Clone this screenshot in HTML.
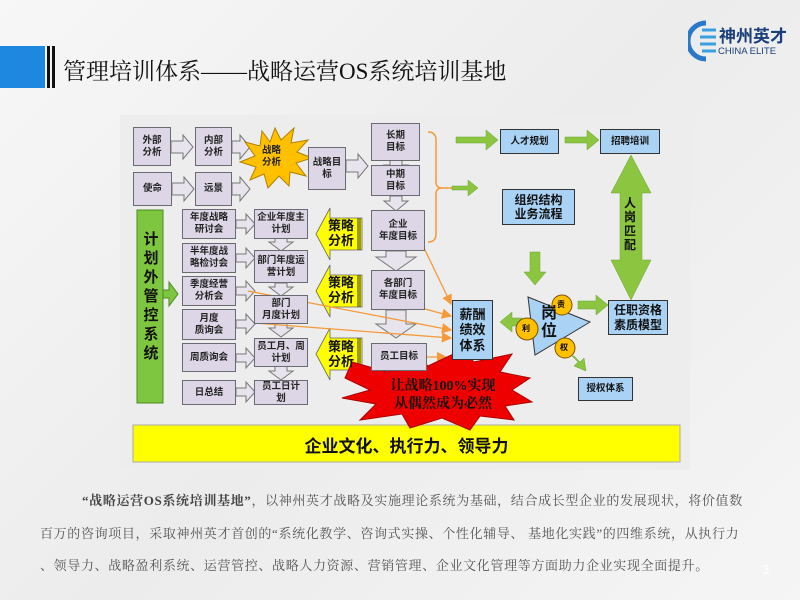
<!DOCTYPE html>
<html><head><meta charset="utf-8"><style>
body{margin:0;width:800px;height:600px;overflow:hidden;background:#f2f2f2;font-family:"Liberation Sans","Noto Sans CJK SC",sans-serif;position:relative}
.a{position:absolute}
.g{position:absolute;background:#dcd6e6;border:1.5px solid #6a6a72;box-sizing:border-box;display:flex;align-items:center;justify-content:center;text-align:center;font-size:9.5px;font-weight:bold;color:#222;line-height:1.25}
.b{position:absolute;background:#a9d2f5;border:1.5px solid #333;box-sizing:border-box;display:flex;align-items:center;justify-content:center;text-align:center;font-weight:bold;color:#111;line-height:1.2}
p{margin:0}
</style></head><body>
<div class="a" style="left:0;top:0;width:800px;height:600px;background:linear-gradient(135deg,#f7f7f7,#ececec 50%,#f5f5f5)"></div>
<div class="a" style="left:0;top:46px;width:45px;height:42px;background:#1e88e0"></div>
<div class="a" style="left:47px;top:46px;width:3px;height:42px;background:#111"></div>
<div class="a" style="left:52px;top:46px;width:3px;height:42px;background:#111"></div>
<div class="a" style="left:63px;top:53px;font-family:'Liberation Serif','Noto Serif CJK SC',serif;font-size:23px;color:#111;white-space:nowrap">管理培训体系——战略运营OS系统培训基地</div>
<svg class="a" style="left:688px;top:20px" width="30" height="42"><path d="M18 3 A18 18 0 1 0 18 39" fill="none" stroke="#2a78c8" stroke-width="5"/><path d="M14 10 h14 M12 17 h16 M12 24 h16 M14 31 h14" stroke="#3aa0e0" stroke-width="3"/></svg>
<div class="a" style="left:719px;top:22px;font-size:17px;font-weight:bold;color:#1a3f7a">神州英才</div>
<div class="a" style="left:718px;top:46px;font-size:9.5px;color:#1a3f7a">CHINA ELITE</div>

<div class="a" style="left:120px;top:115px;width:570px;height:355px;background:#ededed"></div>
<svg class="a" style="left:0;top:0" width="800" height="600">
<defs><marker id="o" markerWidth="8" markerHeight="8" refX="7" refY="4" orient="auto"><path d="M0 0L8 4L0 8z" fill="#f59a3a"/></marker></defs>
<g fill="#e8e4ee" stroke="#777" stroke-width="1">
<path d="M171 141h12v-6l10 12-10 12v-6h-12z"/>
<path d="M172 183h12v-6l10 12-10 12v-6h-12z"/>
<path d="M232 141h8v-6l10 12-10 12v-6h-8z"/>
<path d="M232 183h8v-6l10 12-10 12v-6h-8z"/>
<path d="M346 160h12v-6l10 12-10 12v-6h-12z"/>
<path d="M390 160v5h-6l12 10 12-10h-6v-5z"/>
<path d="M390 196v5h-6l12 10 12-10h-6v-5z"/>
<path d="M386 251v6h-10l20 14 20-14h-10v-6z"/>
<path d="M386 310v14h-10l20 14 20-14h-10v-14z"/>
<path d="M236 220h10v-6l9 10-9 10v-6h-10z"/>
<path d="M236 254h10v-6l9 10-9 10v-6h-10z"/>
<path d="M236 287h10v-6l9 10-9 10v-6h-10z"/>
<path d="M236 320h10v-6l9 10-9 10v-6h-10z"/>
<path d="M236 354h10v-6l9 10-9 10v-6h-10z"/>
<path d="M236 388h10v-6l9 10-9 10v-6h-10z"/>
<path d="M275 238v4h-6l12 9 12-9h-6v-4z"/>
<path d="M275 283v4h-6l12 9 12-9h-6v-4z"/>
<path d="M275 323v5h-6l12 9 12-9h-6v-5z"/>
<path d="M275 366v5h-6l12 9 12-9h-6v-5z"/>
</g>
<polygon points="275,128 281,140 294,128 291,143 308,140 297,152 312,158 296,163 306,176 290,172 289,186 279,176 268,188 264,174 250,180 256,167 240,162 255,156 245,142 260,146 262,131 270,142" fill="#ffc000" stroke="#b08000"/>
<rect x="137" y="210" width="26" height="193" fill="#7fc640" stroke="#4a8a20"/>
<path d="M163 290h6v-8l9 12-9 12v-8h-6z" fill="#7fc640" stroke="#4a8a20"/>
<g fill="#ffff00" stroke="#666" stroke-width="0.8">
<path d="M330 208v10h32v32h-32v10l-14-26z"/>
<path d="M330 265v10h32v32h-32v10l-14-26z"/>
<path d="M330 328v10h32v32h-32v10l-14-26z"/>
</g>
<g stroke="#333" stroke-width="1"><path d="M358 218v32M360 218v32M358 275v32M360 275v32M358 338v32M360 338v32"/></g>
<path d="M428 132 q8 0 8 8 v42 q0 6 6 6 q-6 0 -6 6 v40 q0 8 -8 8" fill="none" stroke="#f59a3a" stroke-width="1.5"/>
<path d="M442 188h10" stroke="#f59a3a" stroke-width="1.5"/>
<g stroke="#f59a3a" stroke-width="1.3" fill="none" marker-end="url(#o)">
<path d="M424 248 L451 304"/>
<path d="M248 291 L451 330"/>
<path d="M254 323 L451 338"/>
<path d="M425 309 L451 316"/>
<path d="M427 357 L446 357"/>
</g>
<g fill="#8cc640" stroke="#6aa030" stroke-width="0.5">
<path d="M456 137h30v-7l12 10-12 10v-7h-30z"/>
<path d="M565 137h22v-7l12 10-12 10v-7h-22z"/>
<path d="M452 186h16v-6l10 8-10 8v-6h-16z"/>
<path d="M530 252h10v20h6l-11 13-11-13h6z"/>
<path d="M631 155l20 38h-9v67h9l-20 40-20-40h9v-67h-9z"/>
<path d="M578 301h18v-6l12 10-12 10v-6h-18z"/>
<path d="M512 318v-6l-12 10 12 10v-6h10v-8z"/>
<path d="M572 356l6 6-4 4 12 5-2-13-4 4-6-6z"/>
</g>
<polygon points="528,297 590,322 535,355" fill="#a9d2f5" stroke="#333"/>
<g fill="#ffc000" stroke="#805000"><circle cx="562" cy="305" r="10"/><circle cx="527" cy="329" r="11"/><circle cx="565" cy="348" r="10"/></g>
<rect x="133" y="425" width="547" height="37" fill="#ffff00" stroke="#aaa"/>
<polygon points="352,362 388,372 410,350 428,366 462,350 474,362 512,354 500,372 530,378 512,390 532,402 505,406 514,420 480,416 470,430 442,418 410,428 402,414 360,420 376,404 342,398 370,390 345,378" fill="#ee0000" stroke="#aa0000"/>
</svg>
<div class="g" style="left:133px;top:127px;width:38px;height:39px">外部<br>分析</div>
<div class="g" style="left:195px;top:127px;width:37px;height:39px">内部<br>分析</div>
<div class="g" style="left:133px;top:172px;width:39px;height:34px">使命</div>
<div class="g" style="left:195px;top:172px;width:37px;height:34px">远景</div>
<div class="a" style="left:262px;top:145px;font-size:9.5px;font-weight:bold;color:#222;text-align:center;line-height:1.3">战略<br>分析</div>
<div class="g" style="left:308px;top:147px;width:38px;height:43px">战略目<br>标</div>
<div class="g" style="left:371px;top:123px;width:49px;height:38px">长期<br>目标</div>
<div class="g" style="left:371px;top:165px;width:49px;height:31px">中期<br>目标</div>
<div class="g" style="left:371px;top:210px;width:54px;height:41px">企业<br>年度目标</div>
<div class="g" style="left:371px;top:270px;width:54px;height:40px">各部门<br>年度目标</div>
<div class="g" style="left:371px;top:343px;width:56px;height:28px">员工目标</div>
<div class="g" style="left:182px;top:209px;width:54px;height:30px">年度战略<br>研讨会</div>
<div class="g" style="left:182px;top:243px;width:54px;height:30px">半年度战<br>略检讨会</div>
<div class="g" style="left:182px;top:276px;width:54px;height:30px">季度经营<br>分析会</div>
<div class="g" style="left:182px;top:309px;width:54px;height:31px">月度<br>质询会</div>
<div class="g" style="left:182px;top:343px;width:54px;height:29px">周质询会</div>
<div class="g" style="left:182px;top:380px;width:54px;height:25px">日总结</div>
<div class="g" style="left:254px;top:209px;width:54px;height:30px">企业年度主<br>计划</div>
<div class="g" style="left:254px;top:250px;width:54px;height:33px">部门年度运<br>营计划</div>
<div class="g" style="left:254px;top:295px;width:54px;height:29px">部门<br>月度计划</div>
<div class="g" style="left:254px;top:338px;width:54px;height:29px">员工月、周<br>计划</div>
<div class="g" style="left:254px;top:380px;width:54px;height:25px">员工日计<br>划</div>
<div class="a" style="left:141px;top:230px;width:20px;font-size:15px;font-weight:bold;color:#111;line-height:19px;text-align:center">计划外管控系统</div>
<div class="a" style="left:328px;top:218px;font-size:13px;font-weight:bold;line-height:15px;color:#111">策略<br>分析</div>
<div class="a" style="left:328px;top:275px;font-size:13px;font-weight:bold;line-height:15px;color:#111">策略<br>分析</div>
<div class="a" style="left:328px;top:339px;font-size:13px;font-weight:bold;line-height:15px;color:#111">策略<br>分析</div>
<div class="b" style="left:500px;top:129px;width:59px;height:25px;font-size:9.5px">人才规划</div>
<div class="b" style="left:600px;top:129px;width:60px;height:25px;font-size:9.5px">招聘培训</div>
<div class="b" style="left:502px;top:189px;width:73px;height:36px;font-size:12px">组织结构<br>业务流程</div>
<div class="b" style="left:608px;top:300px;width:60px;height:35px;font-size:12px">任职资格<br>素质模型</div>
<div class="b" style="left:452px;top:300px;width:41px;height:60px;font-size:13px">薪酬<br>绩效<br>体系</div>
<div class="b" style="left:578px;top:377px;width:55px;height:24px;font-size:9.5px">授权体系</div>
<div class="a" style="left:624px;top:196px;width:14px;font-size:12px;font-weight:bold;line-height:14px;color:#111">人岗匹配</div>
<div class="a" style="left:541px;top:305px;width:16px;font-size:16px;font-weight:bold;line-height:18px;color:#111">岗位</div>
<div class="a" style="left:557px;top:299px;font-size:8px;font-weight:bold">责</div>
<div class="a" style="left:522px;top:323px;font-size:8px;font-weight:bold">利</div>
<div class="a" style="left:560px;top:342px;font-size:8px;font-weight:bold">权</div>
<div class="a" style="left:383px;top:378px;width:120px;text-align:center;font-family:'Liberation Serif','Noto Serif CJK SC',serif;font-size:14px;font-weight:bold;line-height:18px;color:#111">让战略100%实现<br>从偶然成为必然</div>
<div class="a" style="left:133px;top:432px;width:547px;text-align:center;font-size:17px;font-weight:bold;color:#111">企业文化、执行力、领导力</div>
<div class="a" style="left:40px;top:485px;width:740px;font-family:'Liberation Serif','Noto Serif CJK SC',serif;font-size:13px;color:#555;line-height:32.5px;white-space:nowrap;letter-spacing:0.65px">
<p style="padding-left:42px"><b style="color:#444">“战略运营OS系统培训基地”</b>，以神州英才战略及实施理论系统为基础，结合成长型企业的发展现状，将价值数</p>
<p>百万的咨询项目，采取神州英才首创的“系统化教学、咨询式实操、个性化辅导、 基地化实践”的四维系统，从执行力</p>
<p>、领导力、战略盈利系统、运营管控、战略人力资源、营销管理、企业文化管理等方面助力企业实现全面提升。</p>
</div>
<div class="a" style="left:762px;top:562px;font-size:13px;color:#fff">3</div>
</body></html>
